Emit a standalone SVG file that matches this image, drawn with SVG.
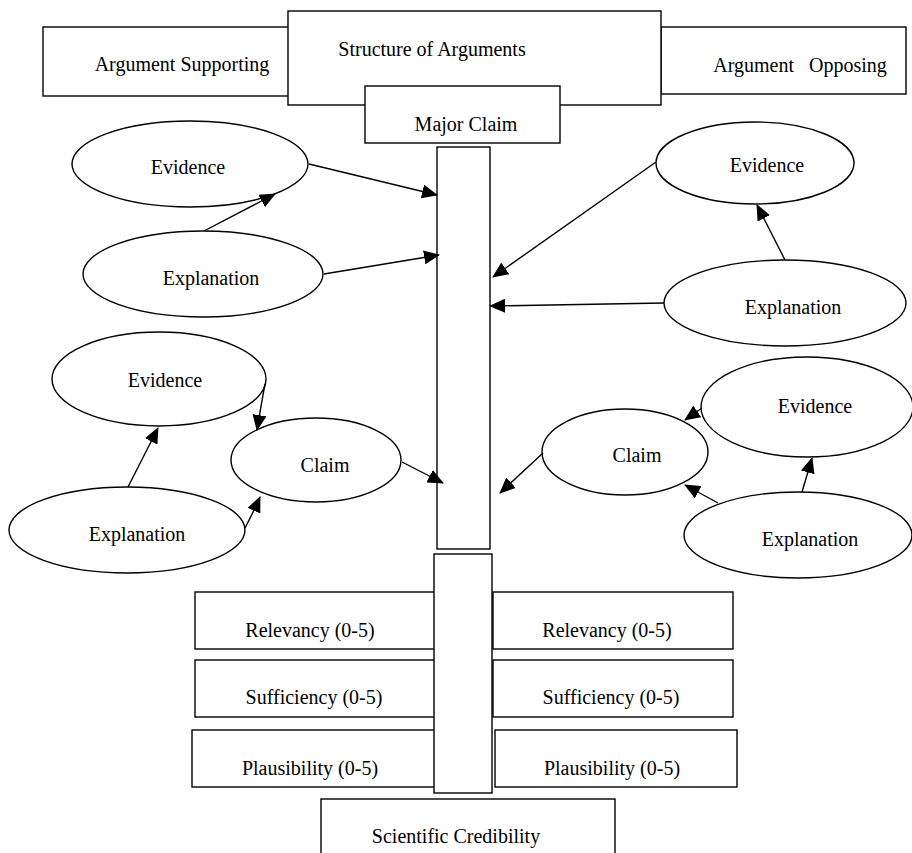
<svg xmlns="http://www.w3.org/2000/svg" width="912" height="853" viewBox="0 0 912 853">
<defs>
<marker id="ah" markerUnits="userSpaceOnUse" markerWidth="16" markerHeight="14" refX="15" refY="7" orient="auto">
<path d="M0,0 L16,7 L0,14 Z" fill="#000"/>
</marker>
<style>
.b{fill:#fff;stroke:#000;stroke-width:1.4}
.t{font-family:"Liberation Serif","Times New Roman",serif;font-size:20px;fill:#000;text-anchor:middle}
.c{stroke:#000;stroke-width:1.4;fill:none;marker-end:url(#ah)}
</style>
</defs>
<rect width="912" height="853" fill="#fff"/>
<g id="supporting"><rect class="b" x="43" y="27" width="246" height="69"/><text class="t" x="182" y="71">Argument Supporting</text></g>
<g id="opposing"><rect class="b" x="661" y="27" width="245" height="67"/><text class="t" x="800" y="72" xml:space="preserve">Argument   Opposing</text></g>
<g id="structure"><rect class="b" x="288" y="11" width="373" height="94"/><text class="t" x="432" y="56">Structure of Arguments</text></g>
<g id="majorclaim"><rect class="b" x="365" y="86" width="195" height="57"/><text class="t" x="466" y="131">Major Claim</text></g>
<g id="bar1"><rect class="b" x="437" y="147" width="53" height="402"/></g>
<g id="rel-l"><rect class="b" x="195" y="592" width="241" height="57"/><text class="t" x="310" y="637">Relevancy (0-5)</text></g>
<g id="rel-r"><rect class="b" x="493" y="592" width="240" height="57"/><text class="t" x="607" y="637">Relevancy (0-5)</text></g>
<g id="suf-l"><rect class="b" x="195" y="660" width="241" height="57"/><text class="t" x="314" y="704">Sufficiency (0-5)</text></g>
<g id="suf-r"><rect class="b" x="493" y="660" width="240" height="57"/><text class="t" x="611" y="704">Sufficiency (0-5)</text></g>
<g id="pla-l"><rect class="b" x="192" y="730" width="244" height="57"/><text class="t" x="310" y="775">Plausibility (0-5)</text></g>
<g id="pla-r"><rect class="b" x="495" y="730" width="242" height="57"/><text class="t" x="612" y="775">Plausibility (0-5)</text></g>
<g id="bar2"><rect class="b" x="434" y="554" width="58" height="239"/></g>
<g id="credibility"><rect class="b" x="321" y="799" width="294" height="60"/><text class="t" x="456" y="843">Scientific Credibility</text></g>

<g id="ev-l1"><ellipse class="b" cx="190" cy="164" rx="118" ry="43"/><text class="t" x="188" y="174">Evidence</text></g>
<g id="ex-l1"><ellipse class="b" cx="203" cy="274" rx="120" ry="43"/><text class="t" x="211" y="285">Explanation</text></g>
<g id="ev-r1"><ellipse class="b" cx="755" cy="163" rx="99" ry="41"/><text class="t" x="767" y="172">Evidence</text></g>
<g id="ex-r1"><ellipse class="b" cx="785" cy="303" rx="121" ry="43"/><text class="t" x="793" y="314">Explanation</text></g>
<g id="ev-l2"><ellipse class="b" cx="159" cy="379" rx="107" ry="47"/><text class="t" x="165" y="387">Evidence</text></g>
<g id="claim-l"><ellipse class="b" cx="316" cy="460" rx="85" ry="42"/><text class="t" x="325" y="472">Claim</text></g>
<g id="ex-l2"><ellipse class="b" cx="127" cy="530" rx="118" ry="43"/><text class="t" x="137" y="541">Explanation</text></g>
<g id="ev-r2"><ellipse class="b" cx="807" cy="407" rx="106" ry="50"/><text class="t" x="815" y="413">Evidence</text></g>
<g id="claim-r"><ellipse class="b" cx="625" cy="452" rx="83" ry="43"/><text class="t" x="637" y="462">Claim</text></g>
<g id="ex-r2"><ellipse class="b" cx="798" cy="535" rx="114" ry="43"/><text class="t" x="810" y="546">Explanation</text></g>

<g id="connectors">
<line class="c" x1="309" y1="164" x2="437" y2="195"/>
<line class="c" x1="324" y1="274" x2="439" y2="255"/>
<line class="c" x1="204" y1="231" x2="275" y2="194"/>
<line class="c" x1="656" y1="162" x2="493" y2="277"/>
<line class="c" x1="664" y1="303" x2="490" y2="306"/>
<line class="c" x1="785" y1="260" x2="757" y2="205"/>
<path class="c" d="M265,384 Q262,400 257,430"/>
<line class="c" x1="128" y1="487" x2="158" y2="428"/>
<path class="c" d="M245,528 Q252,515 260,497"/>
<line class="c" x1="402" y1="462" x2="443" y2="483"/>
<line class="c" x1="543" y1="453" x2="500" y2="493"/>
<line class="c" x1="702" y1="408" x2="685" y2="420"/>
<line class="c" x1="718" y1="503" x2="685" y2="485"/>
<line class="c" x1="802" y1="492" x2="812" y2="458"/>
</g>
</svg>
